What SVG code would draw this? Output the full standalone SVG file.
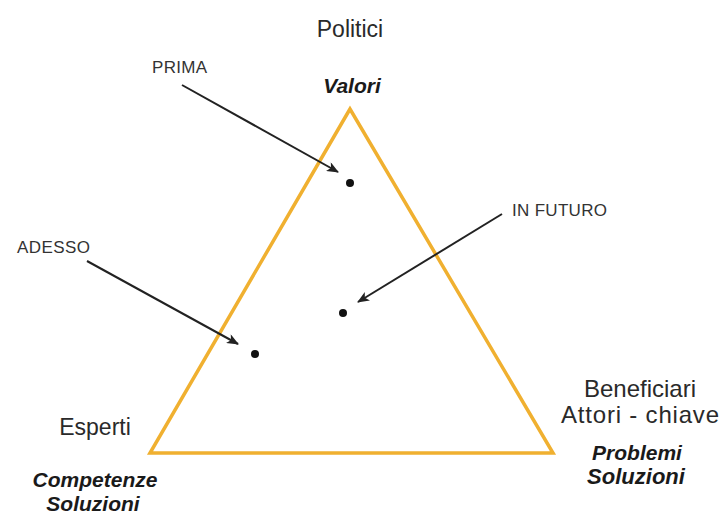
<svg xmlns="http://www.w3.org/2000/svg" width="725" height="519" viewBox="0 0 725 519">
<style>
.reg{font-family:"Liberation Sans",Arial,sans-serif;fill:#2a2a2a}
.bi{font-family:"Liberation Sans",Arial,sans-serif;font-weight:bold;font-style:italic;fill:#1a1a1a}
.lbl{font-family:"Liberation Sans",Arial,sans-serif;font-size:17px;fill:#333}
.arr{stroke:#222;stroke-width:2;fill:none;marker-end:url(#ah)}
.dot{fill:#111}
</style>
<defs>
<marker id="ah" viewBox="0 0 12 10" refX="11" refY="5" markerWidth="13" markerHeight="10" markerUnits="userSpaceOnUse" orient="auto">
<path d="M0,0 L12,5 L0,10 L3,5 Z" fill="#222"/>
</marker>
</defs>
<rect width="725" height="519" fill="#fff"/>
<g id="triangle">
<polygon points="350,109 150,453 553,453" fill="none" stroke="#f0b030" stroke-width="3.5" stroke-linejoin="miter"/>
</g>
<g id="top">
<text class="reg" x="350" y="37" font-size="23" text-anchor="middle">Politici</text>
<text class="bi" x="352" y="93" font-size="21" text-anchor="middle">Valori</text>
</g>
<g id="left">
<text class="reg" x="95" y="435" font-size="23" text-anchor="middle">Esperti</text>
<text class="bi" x="95" y="487" font-size="21" text-anchor="middle">Competenze</text>
<text class="bi" x="93" y="511" font-size="21" text-anchor="middle">Soluzioni</text>
</g>
<g id="right">
<text class="reg" x="640" y="397" font-size="24" text-anchor="middle">Beneficiari</text>
<text class="reg" x="640" y="423" font-size="24" text-anchor="middle" textLength="158">Attori - chiave</text>
<text class="bi" x="637" y="460" font-size="21" text-anchor="middle">Problemi</text>
<text class="bi" x="636" y="484" font-size="22" text-anchor="middle">Soluzioni</text>
</g>
<g id="prima">
<text class="lbl" x="152" y="73" textLength="55">PRIMA</text>
<circle class="dot" cx="350" cy="183" r="4"/>
</g>
<g id="adesso">
<text class="lbl" x="17" y="253" textLength="73">ADESSO</text>
<circle class="dot" cx="255" cy="354" r="4"/>
</g>
<g id="futuro">
<text class="lbl" x="512" y="216" textLength="95">IN FUTURO</text>
<circle class="dot" cx="343" cy="313" r="4"/>
</g>
<g id="connectors">
<line class="arr" x1="182" y1="85" x2="338" y2="172"/>
<line class="arr" x1="87" y1="261" x2="238" y2="344"/>
<line class="arr" x1="502" y1="214" x2="358" y2="302"/>
</g>
</svg>
